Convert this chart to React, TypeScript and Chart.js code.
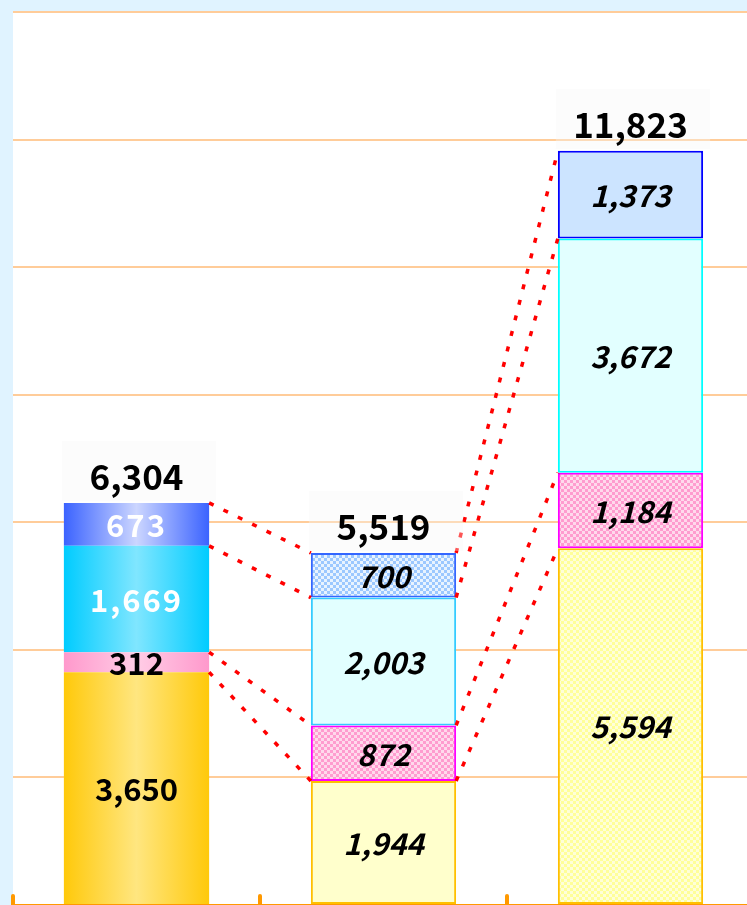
import React, { useEffect, useRef } from 'react';
import { Chart, registerables } from 'chart.js';

Chart.register(...registerables);

const categories = ['Bar 1', 'Bar 2', 'Bar 3'];
const seg1 = [3650, 1944, 5594];
const seg2 = [312, 872, 1184];
const seg3 = [1669, 2003, 3672];
const seg4 = [673, 700, 1373];
const yTicksStep = 2000;
const yMax = 14000;

const FONT = '"Noto Sans CJK JP", "Noto Sans", sans-serif';
const BAR_PCT = 0.588;

function checker(c1: string, c2: string, cell = 3): CanvasPattern | string {
  const off = document.createElement('canvas');
  off.width = cell * 2;
  off.height = cell * 2;
  const g = off.getContext('2d');
  if (!g) return c1;
  g.fillStyle = c2;
  g.fillRect(0, 0, cell * 2, cell * 2);
  g.fillStyle = c1;
  g.fillRect(0, 0, cell, cell);
  g.fillRect(cell, cell, cell, cell);
  const ctx = document.createElement('canvas').getContext('2d')!;
  return ctx.createPattern(off, 'repeat') as CanvasPattern;
}

export default function App() {
  const ref = useRef<HTMLCanvasElement>(null);

  useEffect(() => {
    if (!ref.current) return;

    const pinkCheck = checker('#ff9ccf', '#ffd9ec');
    const blueCheck = checker('#9cc8ff', '#e8f3ff');
    const yellowCheck = checker('#ffff99', '#ffffd8');

    const gradFor = (chart: any, index: number, edge: string, mid: string) => {
      const xs = chart.scales?.x;
      if (!xs) return edge;
      const c = xs.getPixelForValue(index);
      const w = (xs.getPixelForValue(1) - xs.getPixelForValue(0)) * BAR_PCT;
      if (!isFinite(c) || !isFinite(w) || w <= 0) return edge;
      const g = chart.ctx.createLinearGradient(c - w / 2, 0, c + w / 2, 0);
      g.addColorStop(0, edge);
      g.addColorStop(0.5, mid);
      g.addColorStop(1, edge);
      return g;
    };

    const styles = [
      { g: ['#ffc90a', '#ffe680'], f2: '#ffffcc', f3: yellowCheck, b2: '#ffc000', b3: '#ffc000' },
      { g: ['#ff99cc', '#ffcde6'], f2: pinkCheck, f3: pinkCheck, b2: '#ff00ff', b3: '#ff00ff' },
      { g: ['#00ccff', '#80e6ff'], f2: '#e2ffff', f3: '#e2ffff', b2: '#33ccff', b3: '#00ffff' },
      { g: ['#3b63ff', '#ccd6ff'], f2: blueCheck, f3: '#cce4ff', b2: '#3366ff', b3: '#0000ff' },
    ];
    const series = [seg1, seg2, seg3, seg4];

    const datasets = series.map((data, d) => ({
      label: 'S' + (d + 1),
      data,
      backgroundColor: (ctx: any) => {
        const i = ctx.dataIndex;
        const s = styles[d];
        if (i === 0) return gradFor(ctx.chart, 0, s.g[0], s.g[1]);
        if (i === 1) return s.f2;
        return s.f3;
      },
      borderColor: [styles[d].g[0], styles[d].b2, styles[d].b3],
      borderWidth: [0, 2, 2],
      borderSkipped: false,
      barPercentage: 1,
      categoryPercentage: BAR_PCT,
    }));

    const bgPlugin = {
      id: 'bg',
      beforeDraw(chart: any) {
        const { ctx, chartArea } = chart;
        ctx.save();
        ctx.fillStyle = '#e0f3ff';
        ctx.fillRect(0, 0, chart.width, chart.height);
        ctx.fillStyle = '#ffffff';
        ctx.fillRect(chartArea.left, chartArea.top, chartArea.right - chartArea.left, chart.height - chartArea.top);
        ctx.restore();
      },
    };

    const overlayPlugin = {
      id: 'overlay',
      afterDatasetsDraw(chart: any) {
        const { ctx } = chart;
        const metas = series.map((_, d) => chart.getDatasetMeta(d));
        ctx.save();
        ctx.strokeStyle = '#ff0000';
        ctx.lineWidth = 3.5;
        ctx.setLineDash([5, 11]);
        for (let i = 0; i < categories.length - 1; i++) {
          for (let d = 0; d < series.length; d++) {
            const a = metas[d].data[i];
            const b = metas[d].data[i + 1];
            ctx.beginPath();
            ctx.moveTo(a.x + a.width / 2, a.y);
            ctx.lineTo(b.x - b.width / 2, b.y);
            ctx.stroke();
          }
        }
        ctx.setLineDash([]);
        const xs = chart.scales.x;
        const step = xs.getPixelForValue(1) - xs.getPixelForValue(0);
        const bottom = chart.chartArea.bottom;
        ctx.fillStyle = '#ff9900';
        for (let i = 0; i <= categories.length; i++) {
          const x = xs.getPixelForValue(i) - step / 2;
          ctx.beginPath();
          ctx.moveTo(x - 2, bottom);
          ctx.lineTo(x - 2, bottom - 9);
          ctx.arc(x, bottom - 9, 2, Math.PI, 0);
          ctx.lineTo(x + 2, bottom);
          ctx.closePath();
          ctx.fill();
        }
        ctx.textAlign = 'center';
        ctx.textBaseline = 'middle';
        for (let d = 0; d < series.length; d++) {
          for (let i = 0; i < categories.length; i++) {
            const el = metas[d].data[i];
            const v = series[d][i];
            const yc = (el.y + el.base) / 2;
            if (i === 0) {
              ctx.font = `bold 31px ${FONT}`;
              ctx.fillStyle = d >= 2 ? '#ffffff' : '#000000';
              (ctx as any).letterSpacing = d >= 2 ? '2px' : '0px';
            } else {
              ctx.font = `italic bold 30px ${FONT}`;
              ctx.fillStyle = '#000000';
              (ctx as any).letterSpacing = '0px';
            }
            ctx.fillText(v.toLocaleString('en-US'), el.x, yc + 1);
          }
        }
        (ctx as any).letterSpacing = '0px';
        for (let i = 0; i < categories.length; i++) {
          const top = metas[series.length - 1].data[i];
          const total = series.reduce((s, arr) => s + arr[i], 0);
          ctx.fillStyle = 'rgba(246,246,246,0.35)';
          ctx.fillRect(top.x - top.width / 2 - 2, top.y - 62, top.width + 9, 60);
          ctx.fillStyle = '#000000';
          ctx.font = `bold 35px ${FONT}`;
          ctx.fillText(total.toLocaleString('en-US'), top.x, top.y - 26);
        }
        ctx.restore();
      },
    };

    const chart = new Chart(ref.current, {
      type: 'bar',
      data: { labels: categories, datasets: datasets as any },
      options: {
        animation: false,
        responsive: false,
        devicePixelRatio: 1,
        layout: { padding: { left: 13, right: 6, top: 12, bottom: 0 } },
        plugins: { legend: { display: false }, tooltip: { enabled: false } },
        scales: {
          x: {
            stacked: true,
            ticks: { display: false },
            grid: { display: false, drawTicks: false },
            border: { display: true, color: '#ff9900', width: 3 },
          },
          y: {
            stacked: true,
            min: 0,
            max: yMax,
            ticks: { display: false, stepSize: yTicksStep },
            grid: { color: '#ffcc99', lineWidth: 2, drawTicks: false },
            border: { display: false },
          },
        },
      },
      plugins: [bgPlugin, overlayPlugin],
    });
    chart.update();
    return () => chart.destroy();
  }, []);

  return (
    <div style={{ position: 'fixed', left: 0, top: 0, width: 747, height: 905, overflow: 'hidden' }}>
      <canvas ref={ref} width={760} height={905} style={{ display: 'block' }} />
    </div>
  );
}
